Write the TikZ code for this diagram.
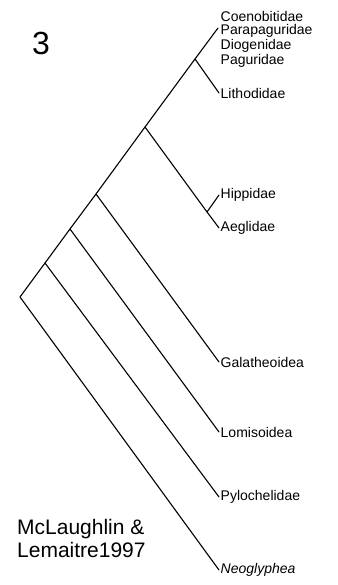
\documentclass[tikz,border=0pt]{standalone}
\usepackage{fontspec}
\setmainfont{Liberation Sans}
\usetikzlibrary{positioning}

\begin{document}
\begin{tikzpicture}[
    x=1pt, y=-1pt,
    branch/.style={line width=1.1pt, line cap=round, line join=round},
    taxon/.style={anchor=west, inner sep=1.5pt, font=\fontsize{14}{15}\selectfont},
    cite/.style={anchor=west, align=left, inner sep=0pt, font=\fontsize{21}{23}\selectfont}
]
\useasboundingbox (0,0) rectangle (337,585);

% Panel number and source
\node[font=\fontsize{32}{36}\selectfont] (num) at (41,43) {3};
\node[cite] (src) at (17,538) {McLaughlin \&\\Lemaitre1997};

% Internal nodes
\coordinate (root) at (20,297);
\coordinate (nA) at (45,263);
\coordinate (nB) at (70,229);
\coordinate (nC) at (96,194);
\coordinate (nD) at (145,127);
\coordinate (nE) at (195,59);
\coordinate (nHA) at (207,212);
\coordinate (tipPag) at (218,28);

% Taxa
\node[taxon] (coe) at (219,16) {Coenobitidae};
\node[taxon] (par) at (219,31) {Parapaguridae};
\node[taxon] (dio) at (219,46) {Diogenidae};
\node[taxon] (pag) at (219,61) {Paguridae};
\node[taxon] (lit) at (219,93) {Lithodidae};
\node[taxon] (hip) at (219,195) {Hippidae};
\node[taxon] (aeg) at (219,228) {Aeglidae};
\node[taxon] (gal) at (219,362) {Galatheoidea};
\node[taxon] (lom) at (219,432) {Lomisoidea};
\node[taxon] (pyl) at (219,497) {Pylochelidae};
\node[taxon] (neo) at (219,570) {\itshape Neoglyphea};

% Tree
\draw[branch] (neo.west) -- (root) -- (nA) -- (nB) -- (nC) -- (nD) -- (nE) -- (tipPag);
\draw[branch] (nA) -- (pyl.west);
\draw[branch] (nB) -- (lom.west);
\draw[branch] (nC) -- (gal.west);
\draw[branch] (nD) -- (nHA) -- (aeg.west);
\draw[branch] (nHA) -- (hip.west);
\draw[branch] (nE) -- (lit.west);

\end{tikzpicture}
\end{document}
